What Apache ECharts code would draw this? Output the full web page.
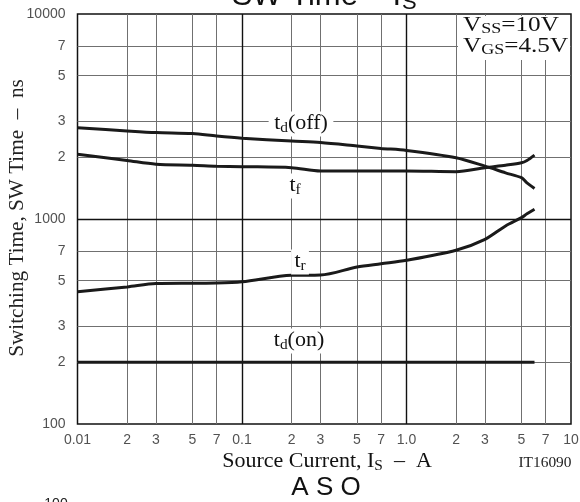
<!DOCTYPE html>
<html>
<head>
<meta charset="utf-8">
<script src="https://cdn.jsdelivr.net/npm/echarts@6/dist/echarts.min.js"></script>
<style>
html, body { margin: 0; padding: 0; background: #fff; }
#main { width: 580px; height: 502px; }
</style>
</head>
<body>
<div id="main"></div>
<script>
// source current, A
var current = [0.01, 0.02, 0.03, 0.05, 0.07, 0.1, 0.2, 0.3, 0.5, 0.7, 1.0, 2, 3, 4.0, 5, 5.4, 6.0];
// switching times, ns
var tdOff = [2790, 2690, 2640, 2610, 2540, 2480, 2400, 2360, 2270, 2210, 2160, 1990, 1810, 1680, 1590, 1500, 1410];
var tF    = [2070, 1930, 1850, 1830, 1810, 1800, 1780, 1715, 1715, 1715, 1715, 1700, 1780, 1830, 1880, 1930, 2050];
var tR    = [442, 466, 484, 486, 487, 494, 531, 533, 583, 605, 629, 704, 796, 925, 1015, 1060, 1115];
var tdOn  = [200, 200, 200, 200, 200, 200, 200, 200, 200, 200, 200, 200, 200, 200, 200, 200, 200];

var xTicks = [0.01, 0.02, 0.03, 0.05, 0.07, 0.1, 0.2, 0.3, 0.5, 0.7, 1, 2, 3, 5, 7, 10];
var xTickLabels = ['0.01', '2', '3', '5', '7', '0.1', '2', '3', '5', '7', '1.0', '2', '3', '5', '7', '10'];
var yTicks = [100, 200, 300, 500, 700, 1000, 2000, 3000, 5000, 7000, 10000];
var yTickLabels = ['100', '2', '3', '5', '7', '1000', '2', '3', '5', '7', '10000'];

var xMajor = [0.1, 1];
var xMinor = [0.02, 0.03, 0.05, 0.07, 0.2, 0.3, 0.5, 0.7, 2, 3, 5, 7];
var yMajor = [1000];
var yMinor = [200, 300, 500, 700, 2000, 3000, 5000, 7000];

var serif = 'Liberation Serif';
var sans = 'Liberation Sans';

function pairs(ys) {
  return current.map(function (x, i) { return [x, ys[i]]; });
}

function curve(name, ys) {
  return {
    name: name,
    type: 'line',
    data: pairs(ys),
    smooth: 0.3,
    symbol: 'none',
    z: 10,
    lineStyle: { color: '#1a1a1a', width: 3 },
    animation: false
  };
}

var minorStyle = { color: '#707070', width: 1, type: 'solid' };
var majorStyle = { color: '#111', width: 1.4, type: 'solid' };
var gridLines = [];
xMinor.forEach(function (v) { gridLines.push({ xAxis: v, lineStyle: minorStyle }); });
yMinor.forEach(function (v) { gridLines.push({ yAxis: v, lineStyle: minorStyle }); });
xMajor.forEach(function (v) { gridLines.push({ xAxis: v, lineStyle: majorStyle }); });
yMajor.forEach(function (v) { gridLines.push({ yAxis: v, lineStyle: majorStyle }); });

// serif label with a subscript, on a white patch that hides the grid
function subLabel(text, x, y, pad, size) {
  size = size || 20;
  return {
    type: 'text', x: x, y: y, z: 30, scaleX: 1.1,
    style: {
      text: text, align: 'center', verticalAlign: 'middle',
      backgroundColor: pad ? '#fff' : null, padding: pad || 0,
      rich: {
        a: { fontFamily: serif, fontSize: size, fill: '#111' },
        s: { fontFamily: serif, fontSize: Math.round(size * 0.7), fill: '#111', padding: [9, 0, 0, 0] }
      }
    }
  };
}

var chart = echarts.init(document.getElementById('main'));
chart.setOption({
  animation: false,
  backgroundColor: '#fff',
  grid: {
    left: 77.5, right: 9, top: 14, bottom: 78,
    show: true, borderColor: '#111', borderWidth: 1.5
  },
  xAxis: {
    type: 'log', logBase: 10, min: 0.01, max: 10,
    axisLine: { show: false }, axisTick: { show: false },
    axisLabel: { show: false }, splitLine: { show: false }
  },
  yAxis: {
    type: 'log', logBase: 10, min: 100, max: 10000,
    axisLine: { show: false }, axisTick: { show: false },
    axisLabel: { show: false }, splitLine: { show: false }
  },
  series: [
    {
      type: 'line', data: [], silent: true, z: 1,
      markLine: { symbol: 'none', silent: true, animation: false, z: 1, label: { show: false }, data: gridLines }
    },
    {
      type: 'scatter', silent: true, symbolSize: 0, clip: false,
      data: xTicks.map(function (v) { return [v, 100]; }),
      label: {
        show: true, position: 'bottom', distance: 9,
        fontFamily: sans, fontSize: 14, color: '#262626',
        formatter: function (p) { return xTickLabels[p.dataIndex]; }
      }
    },
    {
      type: 'scatter', silent: true, symbolSize: 0, clip: false,
      data: yTicks.map(function (v) { return [0.01, v]; }),
      label: {
        show: true, position: 'left', distance: 12,
        fontFamily: sans, fontSize: 14, color: '#262626',
        formatter: function (p) { return yTickLabels[p.dataIndex]; }
      }
    },
    curve('td(off)', tdOff),
    curve('tf', tF),
    curve('tr', tR),
    curve('td(on)', tdOn)
  ],
  graphic: [
    {
      type: 'text', x: 401, y: -4, z: 30,
      style: { text: 'SW Time – I', align: 'right', verticalAlign: 'middle', fontFamily: sans, fontSize: 31, fill: '#111' }
    },
    {
      type: 'text', x: 402, y: 3, z: 30,
      style: { text: 'S', align: 'left', verticalAlign: 'middle', fontFamily: sans, fontSize: 22, fill: '#111' }
    },
    {
      type: 'rect', z: 25, shape: { x: 458, y: 16, width: 112, height: 44 },
      style: { fill: '#fff' }
    },
    {
      type: 'text', x: 463, y: 25, z: 30, scaleX: 1.2,
      style: {
        text: '{a|V}{s|SS}{a|=10V}', align: 'left', verticalAlign: 'middle',
        rich: {
          a: { fontFamily: serif, fontSize: 21, fill: '#111' },
          s: { fontFamily: serif, fontSize: 15, fill: '#111', padding: [9, 0, 0, 0] }
        }
      }
    },
    {
      type: 'text', x: 463, y: 46, z: 30, scaleX: 1.2,
      style: {
        text: '{a|V}{s|GS}{a|=4.5V}', align: 'left', verticalAlign: 'middle',
        rich: {
          a: { fontFamily: serif, fontSize: 21, fill: '#111' },
          s: { fontFamily: serif, fontSize: 15, fill: '#111', padding: [9, 0, 0, 0] }
        }
      }
    },
    subLabel('{a|t}{s|d}{a|(off)}', 301, 124, [1, 5, 1, 5]),
    subLabel('{a|t}{s|f}', 295, 186, [1, 3, 1, 3]),
    subLabel('{a|t}{s|r}', 300, 262, [1, 3, 1, 3]),
    subLabel('{a|t}{s|d}{a|(on)}', 299, 341, [1, 4, 1, 4]),
    {
      type: 'text', x: 18, y: 218, z: 30, rotation: Math.PI / 2, scaleX: 1.06,
      style: {
        text: 'Switching Time, SW Time  –  ns', align: 'center', verticalAlign: 'middle',
        fontFamily: serif, fontSize: 20, fill: '#222'
      }
    },
    subLabel('{a|Source Current, I}{s|S}{a|  –  A}', 327, 462, null),
    {
      type: 'text', x: 545, y: 463, z: 30, scaleX: 1.1,
      style: {
        text: 'IT16090', align: 'center', verticalAlign: 'middle',
        fontFamily: serif, fontSize: 14, fill: '#222'
      }
    },
    {
      type: 'text', x: 326, y: 488, z: 30,
      style: {
        text: 'A S O', align: 'center', verticalAlign: 'middle',
        fontFamily: sans, fontSize: 26, fill: '#111'
      }
    },
    {
      type: 'text', x: 56, y: 497, z: 30,
      style: {
        text: '100', align: 'center', verticalAlign: 'top',
        fontFamily: sans, fontSize: 14, fill: '#222'
      }
    }
  ]
});
</script>
</body>
</html>
